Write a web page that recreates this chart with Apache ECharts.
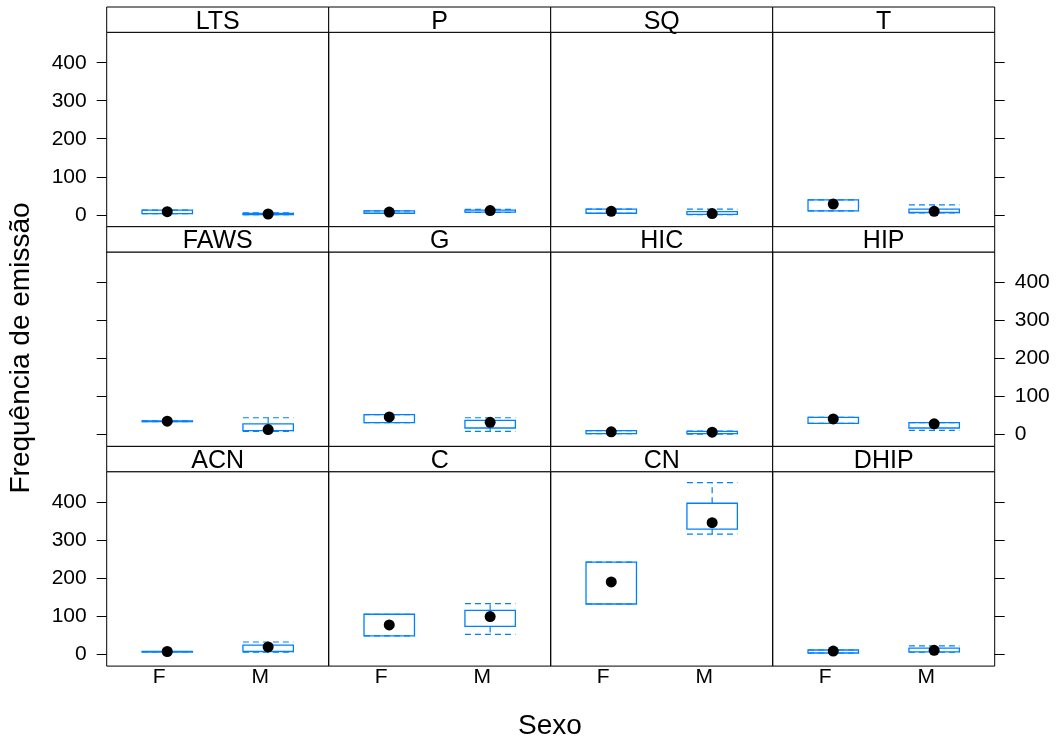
<!DOCTYPE html>
<html><head><meta charset="utf-8">
<script src="https://cdn.jsdelivr.net/npm/echarts@6/dist/echarts.min.js"></script>
<style>html,body{margin:0;padding:0;background:#fff}#c{width:1057px;height:742px}</style>
</head><body><div id="c"></div>
<script>
// ---- data ----
const panels = ['LTS','P','SQ','T','FAWS','G','HIC','HIP','ACN','C','CN','DHIP'];
const sexLevels = ['F','M'];
const yTicks = [0,100,200,300,400];
// five-number summaries per panel: F
const fLo  = [3, 4, 4, 10, 34, 31, 2, 29, 6, 48, 132, 3];
const fQ1  = [3, 4, 4, 10, 34, 31, 2, 29, 6, 48, 132, 3];
const fMed = [8, 7, 9, 28, 35, 46, 7, 41, 7, 77, 190, 8];
const fQ3  = [12, 10, 15, 39, 36, 52, 10, 45, 7, 105, 242, 11];
const fHi  = [12, 10, 15, 39, 36, 52, 10, 45, 7, 105, 242, 11];
// M
const mLo  = [0, 6, 0, 5, 8, 8, 1, 11, 5, 52, 316, 5];
const mQ1  = [0.5, 7, 1, 6, 10, 17, 2, 17, 7, 73, 329, 6];
const mMed = [2, 11, 3, 9, 13, 32, 6, 28, 19, 99, 346, 10];
const mQ3  = [3.5, 12, 8, 15, 28, 37, 8, 31, 24, 115, 397, 16];
const mHi  = [5, 14, 15, 26, 44, 44, 9, 31, 32, 133, 451, 22];

// ---- layout ----
const L = 106.7, R = 994.7, colW = (R - L) / 4;
const top0 = 7, stripH = 25.3, panelH = 194.4;
const BLUE = '#0080ff';
const FONT = 'Liberation Sans, Arial, sans-serif';

const grids = [], xAxes = [], yAxes = [], series = [], graphics = [];
panels.forEach((name, i) => {
  const r = Math.floor(i / 4), c = i % 4;
  const left = L + c * colW;
  const stripTop = top0 + r * (stripH + panelH);
  grids.push({left: left, top: stripTop + stripH, width: colW, height: panelH,
    show: true, borderColor: '#000', borderWidth: 1, backgroundColor: 'transparent'});
  graphics.push({type: 'rect', shape: {x: left, y: stripTop, width: colW, height: stripH},
    style: {fill: '#fff', stroke: '#000', lineWidth: 1}, z: 10});
  graphics.push({type: 'text', x: left + colW / 2, y: stripTop + stripH / 2 + 2,
    style: {text: name, fill: '#000', font: '25px ' + FONT, textAlign: 'center', textVerticalAlign: 'middle'}, z: 11});
  xAxes.push({type: 'value', gridIndex: i, min: 0.4, max: 2.6,
    axisLine: {show: false}, splitLine: {show: false}, axisTick: {show: false},
    axisLabel: {show: r === 2, customValues: [1, 2], formatter: v => sexLevels[Math.round(v) - 1],
      fontSize: 21, color: '#000', fontFamily: FONT, margin: 1, padding: [0, 16, 0, 0]}});
  const leftAxis = c === 0, rightAxis = c === 3;
  const showLabels = (leftAxis && r !== 1) || (rightAxis && r === 1);
  yAxes.push({type: 'value', gridIndex: i, min: -31.4, max: 480,
    position: rightAxis ? 'right' : 'left',
    axisLine: {show: false}, splitLine: {show: false},
    axisTick: {show: leftAxis || rightAxis, length: 10, lineStyle: {color: '#000'}, customValues: yTicks},
    axisLabel: {show: showLabels, customValues: yTicks, fontSize: 21, color: '#000', fontFamily: FONT, margin: 20}});
  const data = [
    [1, fLo[i], fQ1[i], fMed[i], fQ3[i], fHi[i]],
    [2, mLo[i], mQ1[i], mMed[i], mQ3[i], mHi[i]]
  ];
  series.push({type: 'custom', xAxisIndex: i, yAxisIndex: i, data: data,
    renderItem: function (params, api) {
      const x = api.value(0);
      const hw = api.size([0.5, 0])[0] / 2;
      const pLo = api.coord([x, api.value(1)]), pQ1 = api.coord([x, api.value(2)]);
      const pQ3 = api.coord([x, api.value(4)]), pHi = api.coord([x, api.value(5)]);
      const cx = pLo[0];
      const dash = {stroke: BLUE, lineWidth: 1.2, lineDash: [6, 4]};
      return {type: 'group', children: [
        {type: 'line', shape: {x1: cx, y1: pQ3[1], x2: cx, y2: pHi[1]}, style: dash},
        {type: 'line', shape: {x1: cx, y1: pQ1[1], x2: cx, y2: pLo[1]}, style: dash},
        {type: 'line', shape: {x1: cx - hw, y1: pHi[1], x2: cx + hw, y2: pHi[1]}, style: dash},
        {type: 'line', shape: {x1: cx - hw, y1: pLo[1], x2: cx + hw, y2: pLo[1]}, style: dash},
        {type: 'rect', shape: {x: cx - hw, y: pQ3[1], width: 2 * hw, height: Math.max(pQ1[1] - pQ3[1], 0.5)},
          style: {fill: 'none', stroke: BLUE, lineWidth: 1.3}}
      ]};
    }, silent: true, z: 2});
  series.push({type: 'scatter', xAxisIndex: i, yAxisIndex: i, symbol: 'circle', symbolSize: 11,
    itemStyle: {color: '#000', opacity: 1}, data: [[1, fMed[i]], [2, mMed[i]]], silent: true, z: 3});
});

graphics.push({type: 'text', x: 21, y: 348, rotation: Math.PI / 2,
  style: {text: 'Frequência de emissão', fill: '#000', font: '28px ' + FONT, textAlign: 'center', textVerticalAlign: 'middle'}});
graphics.push({type: 'text', x: 550, y: 726,
  style: {text: 'Sexo', fill: '#000', font: '28px ' + FONT, textAlign: 'center', textVerticalAlign: 'middle'}});

const chart = echarts.init(document.getElementById('c'), null, {renderer: 'canvas'});
chart.setOption({animation: false, grid: grids, xAxis: xAxes, yAxis: yAxes, series: series, graphic: graphics});
</script></body></html>
